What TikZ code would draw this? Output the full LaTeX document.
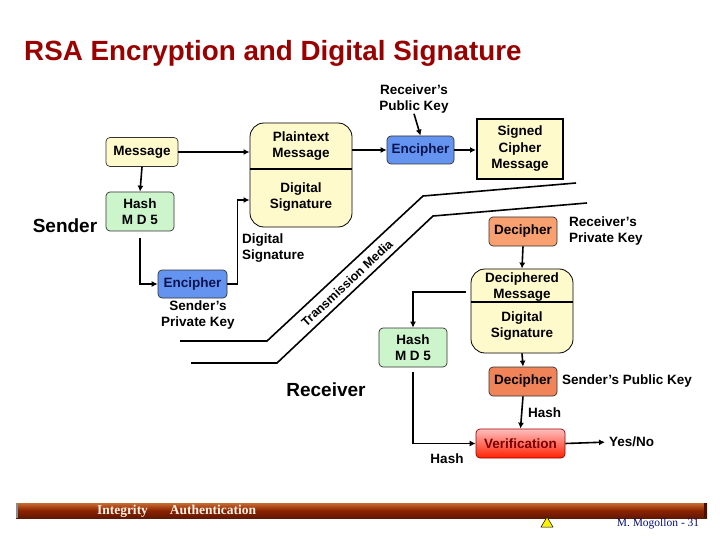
\documentclass[tikz,border=0pt]{standalone}
\usepackage{fontspec}
\setmainfont{Liberation Sans}
\newfontfamily\serifF{Liberation Serif}
\usetikzlibrary{arrows.meta,calc}
\definecolor{ltyel}{HTML}{FFFACC}
\definecolor{ltgrn}{HTML}{CCF5CC}
\definecolor{encblue}{HTML}{6494F0}
\definecolor{navy}{HTML}{0A1450}
\definecolor{decor}{HTML}{F9A070}
\definecolor{decor2}{HTML}{F08458}
\definecolor{titlered}{HTML}{990000}
\definecolor{barred}{HTML}{8B2200}
\begin{document}
\begin{tikzpicture}[x=1pt,y=-1pt,
  font=\bfseries\fontsize{13.5}{16.5}\selectfont,
  box/.style={draw=black!80, line width=0.7pt, rounded corners=4pt, align=center, inner sep=0pt},
  bigbox/.style={draw=black, line width=0.8pt, rounded corners=14pt, fill=ltyel, inner sep=0pt},
  lbl/.style={align=center, inner sep=0pt},
  arr/.style={line width=1.6pt, -{Latex[length=6pt,width=6pt]}},
  ln/.style={line width=1.6pt}]
\useasboundingbox (0,0) rectangle (720,540);
\fill[white] (0,0) rectangle (720,540);

% title
\node[anchor=west, inner sep=0pt, text=titlered, font=\bfseries\fontsize{27.8}{30}\selectfont] (title) at (24,53) {RSA Encryption and Digital Signature};

% sender side
\node[box, fill=ltyel, minimum width=72pt, minimum height=29pt] (msg) at (142,152) {Message};
\node[box, fill=ltgrn, minimum width=68pt, minimum height=39pt] (hash1) at (140,211.5) {Hash\\M D 5};
\node[lbl, font=\bfseries\fontsize{19}{22}\selectfont] (sender) at (65,226) {Sender};
\node[bigbox, minimum width=102pt, minimum height=104pt] (plain) at (301,175) {};
\draw[line width=1.2pt] (plain.west |- 0,169) -- (plain.east |- 0,169);
\node[lbl] (pt) at (301,146) {Plaintext\\Message};
\node[lbl] (ds1) at (301,197) {Digital\\Signature};
\node[box, fill=encblue, text=navy, minimum width=69pt, minimum height=28pt] (encS) at (192.5,284) {Encipher};
\node[lbl] (spk) at (198,315) {Sender’s\\Private Key};
\node[lbl, anchor=west, align=left] (dslbl) at (242,248) {Digital\\Signature};

% receiver's public key / encipher
\node[lbl] (rpk) at (414,99) {Receiver’s\\Public Key};
\node[box, fill=encblue, text=navy, minimum width=67pt, minimum height=28pt] (encR) at (420.5,150) {Encipher};
\node[lbl, draw=black, line width=2pt, fill=ltyel, minimum width=86pt, minimum height=60pt] (signed) at (520,149) {Signed\\Cipher\\Message};

% transmission media
\draw[ln] (180,341) -- (267,341) -- (423,196) -- (576,183);
\draw[ln] (191,363) -- (277,363) -- (433,216) -- (587,203);
\node[lbl, rotate=43, font=\bfseries\fontsize{12.5}{15}\selectfont] (tm) at (347,283) {Transmission Media};

% receiver side
\node[box, fill=decor, minimum width=68pt, minimum height=29pt] (decR) at (523,231.5) {Decipher};
\node[lbl, anchor=west, align=left] (rprk) at (569,231) {Receiver’s\\Private Key};
\node[bigbox, minimum width=102pt, minimum height=84pt] (decbox) at (522,311) {};
\draw[line width=1.2pt] (decbox.west |- 0,302) -- (decbox.east |- 0,302);
\node[lbl] (dm) at (522,287) {Deciphered\\Message};
\node[lbl] (ds2) at (522,326) {Digital\\Signature};
\node[box, fill=ltgrn, minimum width=68pt, minimum height=39pt] (hash2) at (413,347.5) {Hash\\M D 5};
\node[box, fill=decor2, minimum width=68pt, minimum height=29pt] (decS) at (523,381.5) {Decipher};
\node[lbl, anchor=west] (spubk) at (562,381) {Sender’s Public Key};
\node[box, draw=titlered, top color=red!25, bottom color=red!75!orange, text=titlered!80!black, minimum width=89pt, minimum height=29pt] (verif) at (520.5,443.5) {Verification};
\node[lbl, anchor=west] (hashA) at (528,413) {Hash};
\node[lbl, anchor=west] (yesno) at (609,442) {Yes/No};
\node[lbl] (hashB) at (447,459) {Hash};
\node[lbl, font=\bfseries\fontsize{19}{22}\selectfont] (receiver) at (326,390) {Receiver};

% connectors
\draw[arr] (msg.east) -- (msg.east -| plain.west);
\draw[arr] (msg.south) -- (hash1.north);
\draw[arr, shorten <=7pt] (hash1.south) |- (encS.west);
\draw[arr] (encS.east) -- ++(10,0) |- ($(plain.west)+(0,25)$);
\draw[arr] (plain.east |- encR.west) -- (encR.west);
\draw[arr] (rpk.south) -- (encR.north);
\draw[arr] (encR.east) -- (signed.west |- encR.east);
\draw[arr] (decR.south) -- (decbox.north);
\draw[arr] ($(decbox.west)+(-5,-19)$) -| (hash2.north);
\draw[arr, shorten <=5pt] (hash2.south) |- (verif.west);
\draw[arr] (decbox.south) -- (decS.north);
\draw[arr] (decS.south) -- (verif.north);
\draw[arr, shorten >=4pt] (verif.east) -- (yesno.west);

% bottom bar
\shade[top color=barred!60!orange!80!white, bottom color=barred!70!black, middle color=barred] (16,503) rectangle (707,518);
\fill[black!45] (16,503) rectangle (18,518);
\fill[barred!50!black] (704,503) rectangle (707,518);
\node[lbl, anchor=base, font=\serifF\bfseries\fontsize{13.5}{15}\selectfont, text=orange!10!white] (integ) at (122.5,514.5) {Integrity};
\node[lbl, anchor=base, font=\serifF\bfseries\fontsize{13.5}{15}\selectfont, text=orange!10!white] (auth) at (213,514.5) {Authentication};
\draw[fill=yellow, draw=black, line width=0.5pt] (541,527) -- (553,527) -- (547,517) -- cycle;
\node[lbl, font=\serifF\fontsize{11.5}{13}\selectfont, text=navy!80!blue] (mm) at (658,524) {M. Mogollon - 31};
\end{tikzpicture}
\end{document}
